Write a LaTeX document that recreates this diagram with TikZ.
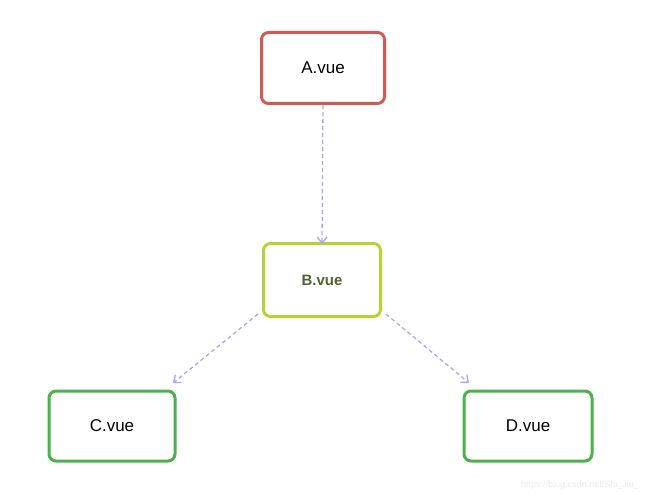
\documentclass[tikz,border=0pt]{standalone}
\usepackage{fontspec}
\setmainfont{Liberation Sans}
\usetikzlibrary{arrows.meta}
\definecolor{cred}{HTML}{D25A55}
\definecolor{cyel}{HTML}{B5D335}
\definecolor{cgrn}{HTML}{4DB04F}
\definecolor{carr}{HTML}{A9A9F2}
\definecolor{colive}{HTML}{4F6234}
\begin{document}
\begin{tikzpicture}[x=1pt,y=-1pt,
  box/.style={draw,line width=3pt,rounded corners=7pt,font=\fontsize{17}{20}\selectfont},
  conn/.style={draw=carr,line width=1.3pt,dashed,dash pattern=on 4pt off 3pt,-{Straight Barb[length=6pt,width=10pt]}}]
\useasboundingbox (0,0) rectangle (661,500);
\node[box,draw=cred,minimum width=123pt,minimum height=71pt] (a) at (323,68) {A.vue};
\node[box,draw=cyel,text=colive,minimum width=117pt,minimum height=73pt,font=\fontsize{15}{18}\selectfont\bfseries] (b) at (322,280) {B.vue};
\node[box,draw=cgrn,minimum width=126pt,minimum height=70pt] (c) at (112,426) {C.vue};
\node[box,draw=cgrn,minimum width=128pt,minimum height=70pt] (d) at (528,426) {D.vue};
\node[text=black!8,font=\fontsize{9}{10}\selectfont] (w) at (580,485) {https://blog.csdn.net/Shi\_Jiu\_};
\draw[conn] (a.south) -- ([yshift=-2pt]b.north);
\draw[conn] ([xshift=-4pt,yshift=4pt]b.south west) -- (173,383);
\draw[conn] ([xshift=4pt,yshift=4pt]b.south east) -- (469,383);
\end{tikzpicture}
\end{document}
